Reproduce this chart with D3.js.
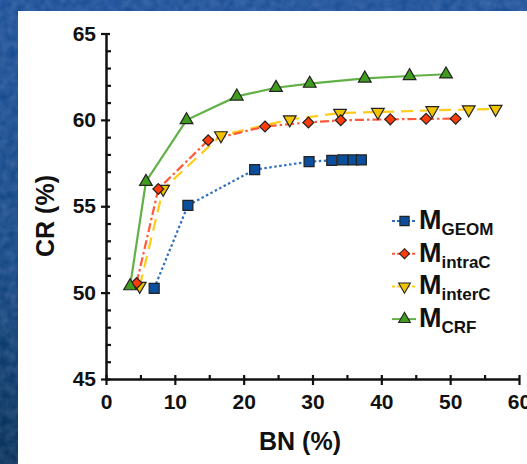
<!DOCTYPE html>
<html>
<head>
<meta charset="utf-8">
<script src="https://cdn.jsdelivr.net/npm/d3@7"></script>
<style>
  body { margin: 0; padding: 0; overflow: hidden; }
  svg { display: block; }
  text { font-family: "Liberation Sans", Arial, sans-serif; font-weight: bold; fill: #111; }
</style>
</head>
<body>
<div id="chart"></div>
<script>
// data
var geomBN = [7.0, 11.9, 21.6, 29.5, 32.8, 34.4, 35.9, 37.1];
var geomCR = [50.25, 55.05, 57.12, 57.58, 57.66, 57.68, 57.68, 57.68];

var intraBN = [4.45, 7.6, 14.85, 23.1, 29.4, 34.1, 41.3, 46.5, 50.8];
var intraCR = [50.55, 56.0, 58.82, 59.62, 59.85, 59.98, 60.03, 60.06, 60.07];

var interBN = [4.9, 8.3, 16.7, 26.7, 34.0, 39.5, 47.4, 52.7, 56.6];
var interCR = [50.38, 56.0, 59.1, 60.02, 60.4, 60.45, 60.55, 60.6, 60.63];

var crfBN = [3.5, 5.8, 11.7, 19.0, 24.7, 29.6, 37.6, 44.1, 49.4];
var crfCR = [50.38, 56.42, 59.99, 61.36, 61.86, 62.1, 62.4, 62.54, 62.64];

var xTicks = [0, 10, 20, 30, 40, 50, 60];
var xMinor = [5, 15, 25, 35, 45, 55];
var yTicks = [45, 50, 55, 60, 65];
var yMinor = [46, 47, 48, 49, 51, 52, 53, 54, 56, 57, 58, 59, 61, 62, 63, 64];

var seriesNames = ["GEOM", "intraC", "interC", "CRF"];

var W = 527, H = 464;

var svg = d3.select("#chart").append("svg")
    .attr("width", W)
    .attr("height", H);

var defs = svg.append("defs");
var grad = defs.append("linearGradient")
    .attr("id", "bg")
    .attr("x1", 0).attr("y1", 0).attr("x2", 0).attr("y2", 1);
grad.append("stop").attr("offset", "0%").attr("stop-color", "#1a4e96");
grad.append("stop").attr("offset", "55%").attr("stop-color", "#124683");
grad.append("stop").attr("offset", "100%").attr("stop-color", "#032d55");

var noise = defs.append("filter").attr("id", "tex");
noise.append("feTurbulence")
    .attr("type", "fractalNoise")
    .attr("baseFrequency", 0.12)
    .attr("numOctaves", 2)
    .attr("result", "n");
noise.append("feColorMatrix")
    .attr("in", "n")
    .attr("type", "matrix")
    .attr("values", "0 0 0 0 0.5  0 0 0 0 0.6  0 0 0 0 0.9  0 0 0 0.3 -0.05");
noise.append("feComposite").attr("in2", "SourceGraphic").attr("operator", "in");

// slide background
svg.append("rect").attr("width", W).attr("height", H).attr("fill", "url(#bg)");
svg.append("rect").attr("width", W).attr("height", H).attr("fill", "#fff").attr("filter", "url(#tex)");
// white panel
svg.append("rect")
    .attr("x", 18).attr("y", 11)
    .attr("width", W - 18).attr("height", H - 11)
    .attr("fill", "#ffffff");

var x = d3.scaleLinear().domain([0, 60]).range([106, 519]);
var y = d3.scaleLinear().domain([45, 65]).range([379, 33.5]);

// axes
var gx = svg.append("g").attr("transform", "translate(0," + y(45) + ")");
gx.call(d3.axisBottom(x).tickValues(xTicks).tickSize(6).tickSizeOuter(0).tickPadding(9));
gx.append("g").call(d3.axisTop(x).tickValues(xTicks).tickSize(4).tickFormat(""));
gx.append("g").call(d3.axisTop(x).tickValues(xMinor).tickSize(4).tickFormat(""));

var gy = svg.append("g").attr("transform", "translate(" + x(0) + ",0)");
gy.call(d3.axisLeft(y).tickValues(yTicks).tickSize(5).tickSizeOuter(0).tickPadding(5));
gy.append("g").call(d3.axisRight(y).tickValues(yTicks).tickSize(4).tickFormat(""));
gy.append("g").call(d3.axisRight(y).tickValues(yMinor).tickSize(5).tickFormat(""));

svg.selectAll(".domain").attr("stroke", "#111").attr("stroke-width", 2.5);
gx.selectAll("g g .domain").remove();
gy.selectAll("g g .domain").remove();
svg.selectAll(".tick line").attr("stroke", "#111").attr("stroke-width", 2.2);
svg.selectAll(".tick text")
    .style("font-size", "21px")
    .style("font-family", "'Liberation Sans', Arial, sans-serif")
    .style("font-weight", "bold")
    .attr("fill", "#111");

// axis titles
svg.append("text")
    .attr("transform", "translate(54,216) rotate(-90)")
    .attr("text-anchor", "middle")
    .style("font-size", "25px")
    .text("CR (%)");
svg.append("text")
    .attr("x", 300).attr("y", 450)
    .attr("text-anchor", "middle")
    .style("font-size", "25px")
    .text("BN (%)");

var styles = {
  GEOM:   { line: "#2f6fc0", dash: "2.5,2.5", width: 2.2, fill: "#0b4f9c", sym: d3.symbolSquare, size: 100, rot: 0 },
  intraC: { line: "#ff5a3a", dash: "9,3,2.5,3", width: 2.2, fill: "#ff3c0a", sym: d3.symbolDiamond2, size: 75, rot: 0 },
  interC: { line: "#ffcc1a", dash: "12,7", width: 2.2, fill: "#f2c400", sym: d3.symbolTriangle, size: 70, rot: 180 },
  CRF:    { line: "#62b146", dash: null, width: 2.2, fill: "#3f9c1e", sym: d3.symbolTriangle, size: 70, rot: 0 }
};

var series = {
  GEOM: d3.zip(geomBN, geomCR),
  intraC: d3.zip(intraBN, intraCR),
  interC: d3.zip(interBN, interCR),
  CRF: d3.zip(crfBN, crfCR)
};

var line = d3.line()
    .x(function(d) { return x(d[0]); })
    .y(function(d) { return y(d[1]); });

var drawOrder = ["GEOM", "interC", "intraC", "CRF"];

drawOrder.forEach(function(name) {
  var s = styles[name];
  svg.append("path")
      .datum(series[name])
      .attr("fill", "none")
      .attr("stroke", s.line)
      .attr("stroke-width", s.width)
      .attr("stroke-dasharray", s.dash)
      .attr("d", line);
});

drawOrder.forEach(function(name) {
  var s = styles[name];
  svg.append("g").selectAll("path")
      .data(series[name])
      .enter().append("path")
      .attr("transform", function(d) {
        return "translate(" + x(d[0]) + "," + y(d[1]) + ") rotate(" + s.rot + ")";
      })
      .attr("d", d3.symbol().type(s.sym).size(s.size))
      .attr("fill", s.fill)
      .attr("stroke", "#222")
      .attr("stroke-width", 1.2);
});

// legend
var legend = svg.append("g");
seriesNames.forEach(function(name, i) {
  var s = styles[name];
  var ly = 221 + i * 32.7;
  var g = legend.append("g").attr("transform", "translate(0," + ly + ")");
  g.append("line")
      .attr("x1", 392).attr("x2", 416)
      .attr("stroke", s.line)
      .attr("stroke-width", 2)
      .attr("stroke-dasharray", s.dash ? "3,2" : null);
  g.append("path")
      .attr("transform", "translate(404.5,0) rotate(" + s.rot + ")")
      .attr("d", d3.symbol().type(s.sym).size(s.size * 0.85))
      .attr("fill", s.fill)
      .attr("stroke", "#222")
      .attr("stroke-width", 1.1);
  var t = g.append("text")
      .attr("x", 419).attr("y", 8)
      .style("font-size", "27px");
  t.append("tspan").text("M");
  t.append("tspan")
      .attr("dy", 6)
      .style("font-size", "17px")
      .text(name);
});
</script>
</body>
</html>
